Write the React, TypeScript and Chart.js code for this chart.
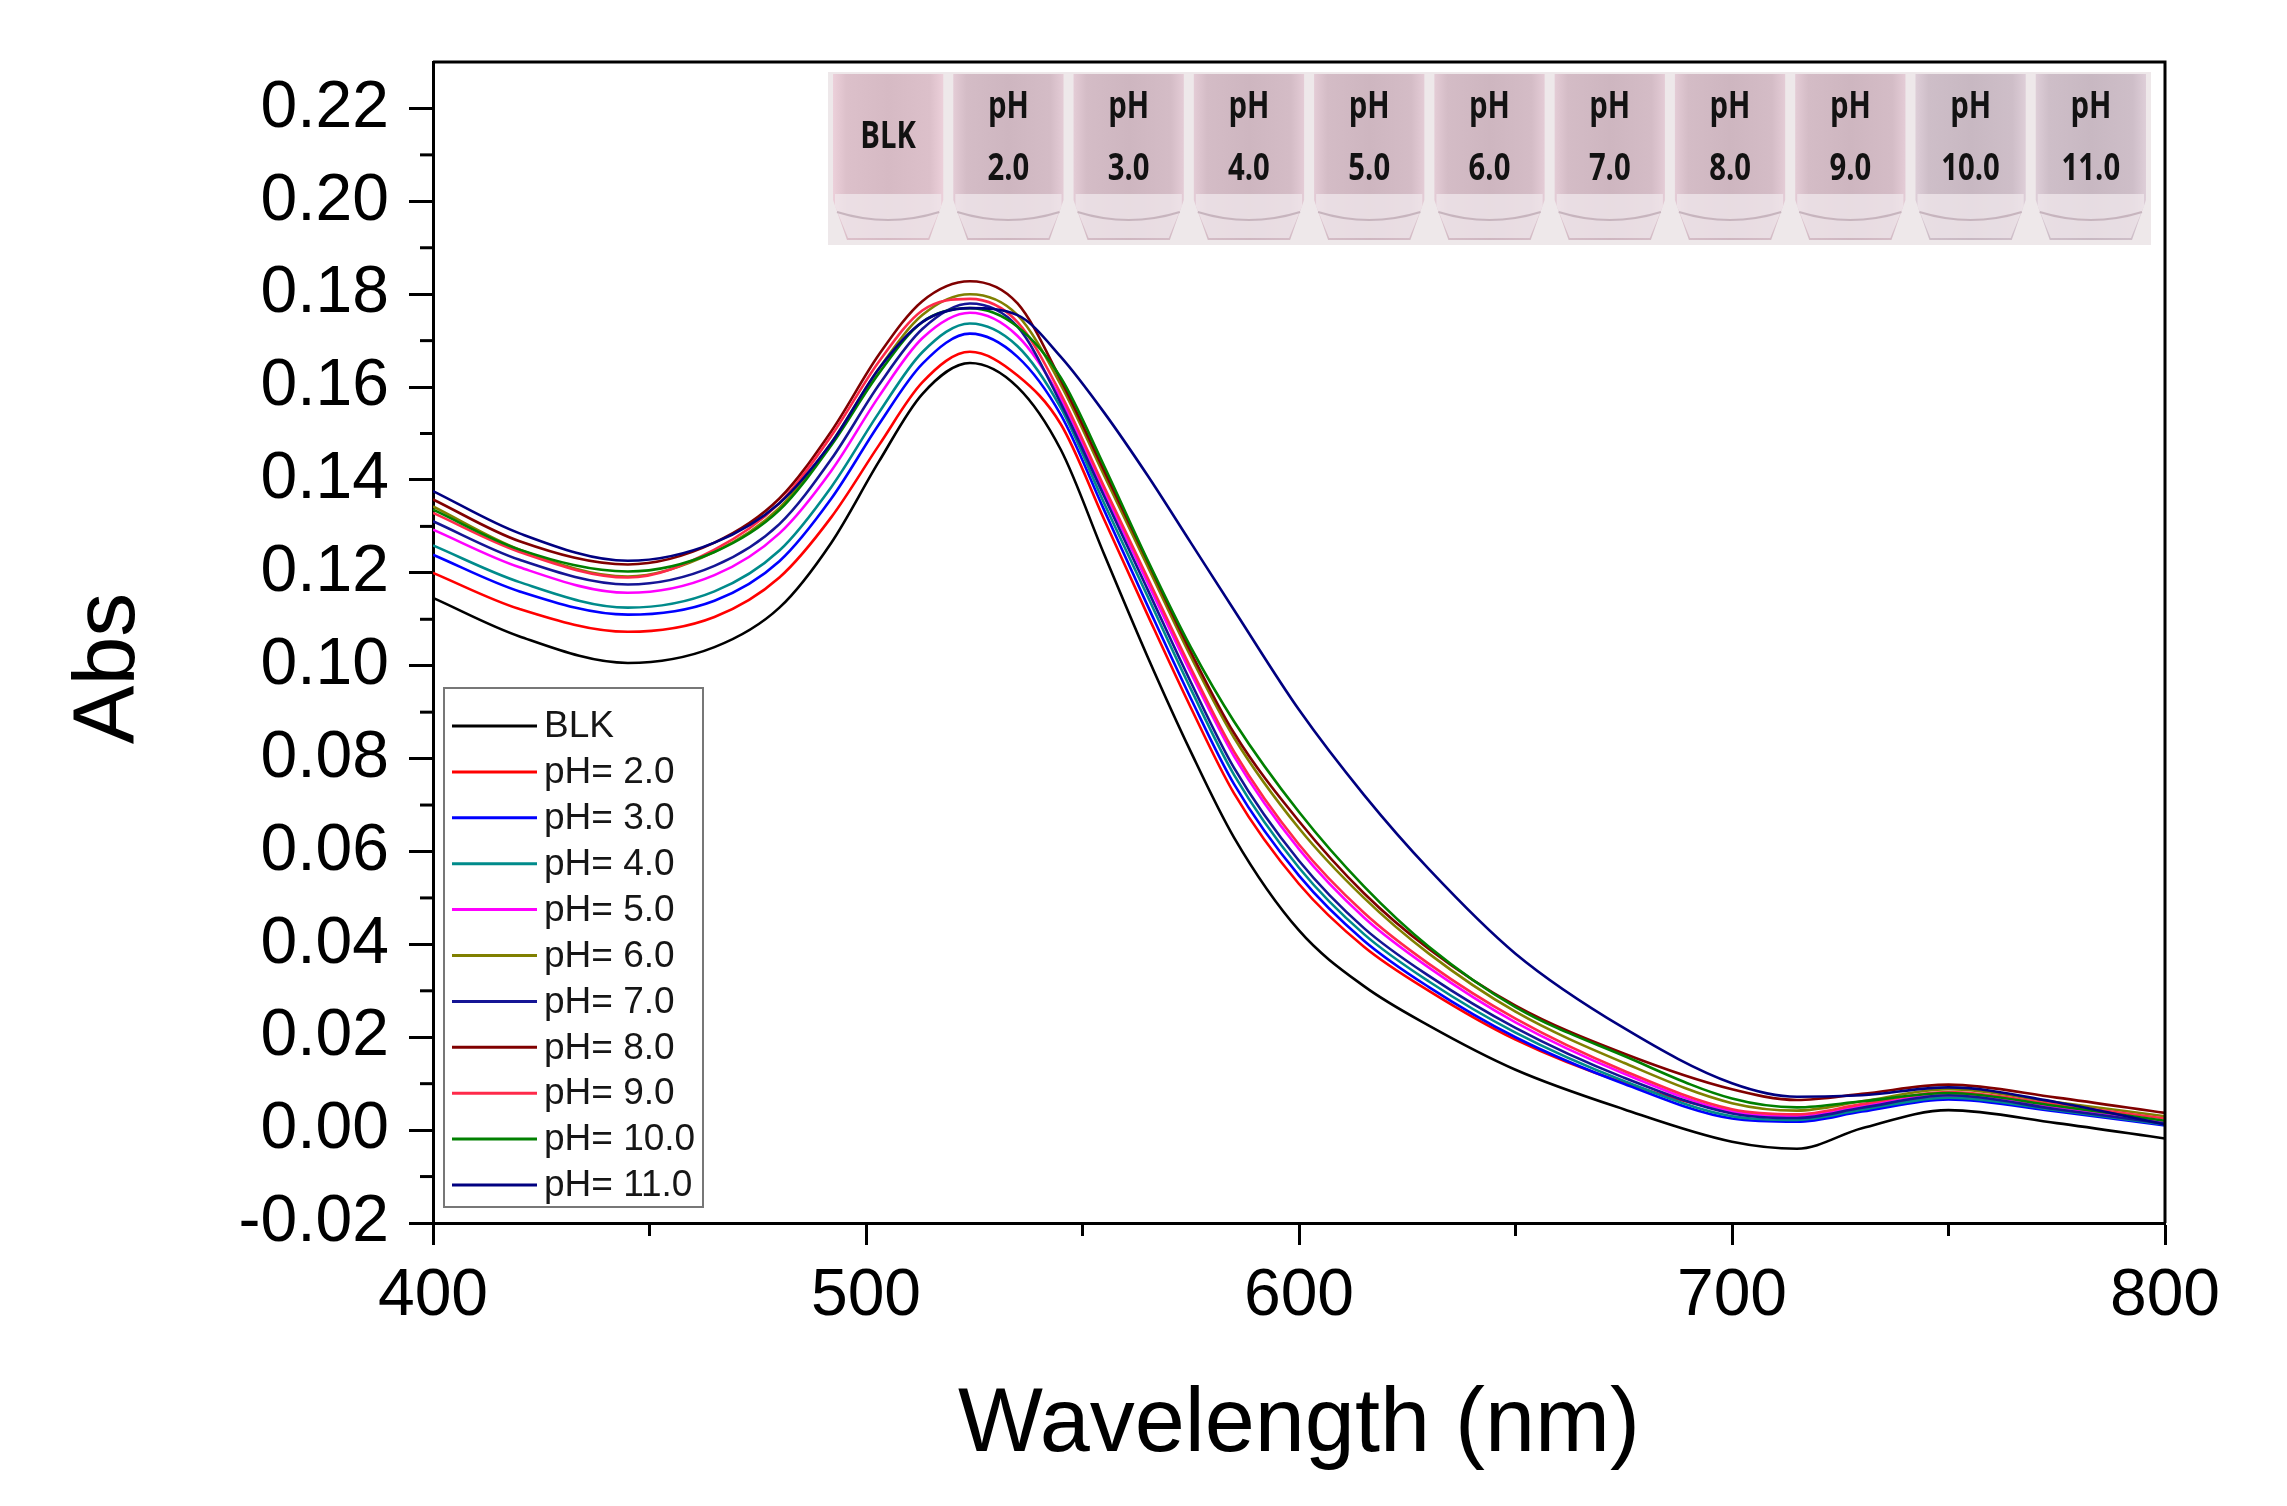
import React, { useEffect, useRef } from 'react';
import { Chart, registerables } from 'chart.js';

Chart.register(...registerables);

const wavelengths = [400, 420, 445, 465, 480, 492, 503, 513, 524, 535, 545, 555, 565, 575, 585, 600, 615, 630, 650, 675, 700, 715, 730, 750, 775, 800];

const seriesLabels = ['BLK', 'pH= 2.0', 'pH= 3.0', 'pH= 4.0', 'pH= 5.0', 'pH= 6.0', 'pH= 7.0', 'pH= 8.0', 'pH= 9.0', 'pH= 10.0', 'pH= 11.0'];
const seriesColors = ['#000000', '#ff0000', '#0000ff', '#008b8b', '#ff00ff', '#808000', '#151595', '#800000', '#ff2a4a', '#008000', '#000080'];

const absBLK = [0.1146, 0.1063, 0.1006, 0.1040, 0.1125, 0.1265, 0.1440, 0.1585, 0.1652, 0.1600, 0.1465, 0.1240, 0.1020, 0.0815, 0.0630, 0.0430, 0.0310, 0.0225, 0.0130, 0.0045, -0.0025, -0.0040, 0.0004, 0.0043, 0.0015, -0.0018];
const absPH2 = [0.1200, 0.1122, 0.1073, 0.1105, 0.1190, 0.1320, 0.1475, 0.1610, 0.1676, 0.1625, 0.1520, 0.1315, 0.1110, 0.0910, 0.0725, 0.0530, 0.0395, 0.0300, 0.0195, 0.0102, 0.0040, 0.0028, 0.0048, 0.0070, 0.0045, 0.0015];
const absPH3 = [0.1239, 0.1160, 0.1110, 0.1140, 0.1225, 0.1360, 0.1520, 0.1650, 0.1715, 0.1665, 0.1540, 0.1335, 0.1130, 0.0930, 0.0745, 0.0548, 0.0408, 0.0308, 0.0200, 0.0100, 0.0025, 0.0018, 0.0040, 0.0066, 0.0040, 0.0010];
const absPH4 = [0.1259, 0.1180, 0.1125, 0.1160, 0.1248, 0.1385, 0.1545, 0.1675, 0.1737, 0.1688, 0.1555, 0.1350, 0.1150, 0.0950, 0.0765, 0.0565, 0.0422, 0.0320, 0.0210, 0.0106, 0.0030, 0.0022, 0.0044, 0.0070, 0.0043, 0.0012];
const absPH5 = [0.1293, 0.1212, 0.1157, 0.1195, 0.1285, 0.1420, 0.1580, 0.1705, 0.1760, 0.1710, 0.1575, 0.1375, 0.1180, 0.0985, 0.0805, 0.0605, 0.0458, 0.0350, 0.0232, 0.0122, 0.0040, 0.0030, 0.0052, 0.0076, 0.0048, 0.0018];
const absPH6 = [0.1343, 0.1250, 0.1192, 0.1245, 0.1340, 0.1480, 0.1640, 0.1755, 0.1800, 0.1755, 0.1605, 0.1410, 0.1215, 0.1020, 0.0845, 0.0650, 0.0500, 0.0380, 0.0255, 0.0145, 0.0058, 0.0042, 0.0062, 0.0088, 0.0060, 0.0030];
const absPH7 = [0.1311, 0.1228, 0.1175, 0.1215, 0.1305, 0.1445, 0.1605, 0.1725, 0.1780, 0.1730, 0.1565, 0.1365, 0.1165, 0.0965, 0.0780, 0.0580, 0.0435, 0.0332, 0.0220, 0.0113, 0.0036, 0.0026, 0.0048, 0.0075, 0.0045, 0.0014];
const absPH8 = [0.1358, 0.1268, 0.1218, 0.1265, 0.1360, 0.1505, 0.1670, 0.1785, 0.1828, 0.1780, 0.1615, 0.1420, 0.1225, 0.1030, 0.0855, 0.0665, 0.0510, 0.0390, 0.0268, 0.0165, 0.0088, 0.0065, 0.0078, 0.0098, 0.0070, 0.0037];
const absPH9 = [0.1329, 0.1245, 0.1190, 0.1250, 0.1350, 0.1495, 0.1655, 0.1765, 0.1790, 0.1740, 0.1585, 0.1385, 0.1190, 0.0995, 0.0815, 0.0615, 0.0468, 0.0358, 0.0240, 0.0128, 0.0045, 0.0034, 0.0056, 0.0082, 0.0055, 0.0025];
const absPH10 = [0.1336, 0.1250, 0.1203, 0.1245, 0.1335, 0.1475, 0.1630, 0.1740, 0.1770, 0.1730, 0.1620, 0.1430, 0.1228, 0.1040, 0.0880, 0.0685, 0.0525, 0.0395, 0.0265, 0.0160, 0.0068, 0.0049, 0.0062, 0.0080, 0.0052, 0.0020];
const absPH11 = [0.1376, 0.1285, 0.1226, 0.1265, 0.1350, 0.1480, 0.1640, 0.1740, 0.1770, 0.1755, 0.1665, 0.1545, 0.1410, 0.1265, 0.1120, 0.0905, 0.0722, 0.0562, 0.0380, 0.0220, 0.0101, 0.0072, 0.0075, 0.0092, 0.0060, 0.0012];

const seriesValues = [absBLK, absPH2, absPH3, absPH4, absPH5, absPH6, absPH7, absPH8, absPH9, absPH10, absPH11];

const xMajorTicks = [400, 500, 600, 700, 800];
const xMinorTicks = [450, 550, 650, 750];
const yMinorTicks = [-0.01, 0.01, 0.03, 0.05, 0.07, 0.09, 0.11, 0.13, 0.15, 0.17, 0.19, 0.21];

const vialTop = ['', 'pH', 'pH', 'pH', 'pH', 'pH', 'pH', 'pH', 'pH', 'pH', 'pH'];
const vialBottom = ['BLK', '2.0', '3.0', '4.0', '5.0', '6.0', '7.0', '8.0', '9.0', '10.0', '11.0'];

const AXIS_FONT = '"Liberation Sans", Arial, sans-serif';

const framePlugin = {
  id: 'frameAndMinor',
  afterDraw(chart: any) {
    const { ctx, chartArea } = chart;
    const xs = chart.scales.x;
    const ys = chart.scales.y;
    ctx.save();
    ctx.strokeStyle = '#000';
    ctx.lineWidth = 3;
    ctx.beginPath();
    ctx.moveTo(chartArea.left, chartArea.top);
    ctx.lineTo(chartArea.right, chartArea.top);
    ctx.lineTo(chartArea.right, chartArea.bottom);
    ctx.stroke();
    xMinorTicks.forEach((v) => {
      const px = xs.getPixelForValue(v);
      ctx.beginPath();
      ctx.moveTo(px, chartArea.bottom);
      ctx.lineTo(px, chartArea.bottom + 13);
      ctx.stroke();
    });
    yMinorTicks.forEach((v) => {
      const py = ys.getPixelForValue(v);
      ctx.beginPath();
      ctx.moveTo(chartArea.left, py);
      ctx.lineTo(chartArea.left - 13, py);
      ctx.stroke();
    });
    ctx.fillStyle = '#000';
    ctx.font = `88px ${AXIS_FONT}`;
    ctx.textAlign = 'center';
    ctx.textBaseline = 'middle';
    ctx.translate(110, (chartArea.top + chartArea.bottom) / 2 + 26);
    ctx.rotate(-Math.PI / 2);
    ctx.fillText('Abs', 0, 0);
    ctx.restore();
  },
};

const legendPlugin = {
  id: 'boxLegend',
  afterDatasetsDraw(chart: any) {
    const { ctx, chartArea } = chart;
    const left = chartArea.left + 11;
    const bottom = chartArea.bottom - 16;
    const w = 259;
    const h = 519;
    const top = bottom - h;
    ctx.save();
    ctx.fillStyle = '#ffffff';
    ctx.fillRect(left, top, w, h);
    ctx.strokeStyle = '#777';
    ctx.lineWidth = 2;
    ctx.strokeRect(left, top, w, h);
    ctx.font = `37px ${AXIS_FONT}`;
    ctx.textBaseline = 'middle';
    ctx.textAlign = 'left';
    seriesLabels.forEach((lab, i) => {
      const y = top + 38 + i * 45.9;
      ctx.strokeStyle = seriesColors[i];
      ctx.lineWidth = 3;
      ctx.beginPath();
      ctx.moveTo(left + 8, y);
      ctx.lineTo(left + 93, y);
      ctx.stroke();
      ctx.fillStyle = '#161616';
      ctx.fillText(lab, left + 100, y + 1);
    });
    ctx.restore();
  },
};

const insetPlugin = {
  id: 'vialInset',
  beforeDatasetsDraw(chart: any) {
    const { ctx, chartArea } = chart;
    const x0 = chartArea.left + 395;
    const x1 = chartArea.right - 14;
    const y0 = chartArea.top + 10;
    const y1 = chartArea.top + 183;
    const n = vialBottom.length;
    const vw = (x1 - x0) / n;
    ctx.save();
    ctx.fillStyle = '#eee8ea';
    ctx.fillRect(x0, y0, x1 - x0, y1 - y0);
    for (let i = 0; i < n; i++) {
      const vx = x0 + i * vw;
      const bodyL = vx + 5;
      const bodyR = vx + vw - 5;
      const g = ctx.createLinearGradient(bodyL, 0, bodyR, 0);
      const base = i === 0 ? [214, 186, 196] : i >= 9 ? [200, 184, 194] : [206, 182, 192];
      const c = (k: number) => `rgb(${Math.round(base[0] + k)},${Math.round(base[1] + k)},${Math.round(base[2] + k)})`;
      g.addColorStop(0, c(22));
      g.addColorStop(0.12, c(6));
      g.addColorStop(0.5, c(0));
      g.addColorStop(0.88, c(6));
      g.addColorStop(1, c(22));
      ctx.fillStyle = g;
      ctx.beginPath();
      ctx.moveTo(bodyL, y0 + 2);
      ctx.lineTo(bodyR, y0 + 2);
      ctx.lineTo(bodyR, y0 + 128);
      ctx.lineTo(bodyR - 14, y0 + 168);
      ctx.lineTo(bodyL + 14, y0 + 168);
      ctx.lineTo(bodyL, y0 + 128);
      ctx.closePath();
      ctx.fill();
      ctx.fillStyle = 'rgba(240,232,236,0.75)';
      ctx.beginPath();
      ctx.moveTo(bodyL + 2, y0 + 122);
      ctx.lineTo(bodyR - 2, y0 + 122);
      ctx.lineTo(bodyR - 2, y0 + 134);
      ctx.lineTo(bodyR - 15, y0 + 166);
      ctx.lineTo(bodyL + 15, y0 + 166);
      ctx.lineTo(bodyL + 2, y0 + 134);
      ctx.closePath();
      ctx.fill();
      ctx.strokeStyle = 'rgba(190,170,180,0.8)';
      ctx.lineWidth = 2;
      ctx.beginPath();
      ctx.moveTo(bodyL + 4, y0 + 140);
      ctx.quadraticCurveTo((bodyL + bodyR) / 2, y0 + 156, bodyR - 4, y0 + 140);
      ctx.stroke();
      const cx = vx + vw / 2;
      ctx.fillStyle = '#121212';
      ctx.textAlign = 'center';
      ctx.textBaseline = 'middle';
      ctx.font = '700 34px "Open Sans", "Noto Sans", sans-serif';
      const drawCondensed = (t: string, x: number, y: number) => {
        ctx.save();
        ctx.translate(x, y);
        ctx.scale(0.86, 1.08);
        ctx.fillText(t, 0, 0);
        ctx.restore();
      };
      if (vialTop[i]) {
        drawCondensed(vialTop[i], cx, y0 + 36);
        drawCondensed(vialBottom[i], cx, y0 + 98);
      } else {
        drawCondensed(vialBottom[i], cx, y0 + 66);
      }
    }
    ctx.restore();
  },
};

export default function App() {
  const canvasRef = useRef<HTMLCanvasElement | null>(null);

  useEffect(() => {
    const canvas = canvasRef.current;
    if (!canvas) return;
    const datasets = seriesLabels.map((label, i) => ({
      label,
      data: wavelengths.map((w, j) => ({ x: w, y: seriesValues[i][j] })),
      borderColor: seriesColors[i],
      backgroundColor: seriesColors[i],
      borderWidth: 2.6,
      pointRadius: 0,
      fill: false,
      cubicInterpolationMode: 'monotone' as const,
      order: seriesLabels.length - i,
    }));

    const chart = new Chart(canvas, {
      type: 'line',
      data: { datasets },
      plugins: [insetPlugin, legendPlugin, framePlugin],
      options: {
        animation: false,
        responsive: false,
        devicePixelRatio: 1,
        layout: { padding: { left: 0, right: 122, top: 62, bottom: 0 } },
        plugins: {
          legend: { display: false },
          tooltip: { enabled: false },
          title: { display: false },
        },
        scales: {
          x: {
            type: 'linear',
            min: 400,
            max: 800,
            afterFit: (scale: any) => {
              scale.height = 283;
            },
            afterBuildTicks: (scale: any) => {
              scale.ticks = xMajorTicks.map((v) => ({ value: v }));
            },
            ticks: {
              padding: 12,
              color: '#000',
              font: { family: AXIS_FONT, size: 66 },
              maxRotation: 0,
              callback: (v: any) => String(v),
            },
            grid: {
              display: true,
              drawOnChartArea: false,
              drawTicks: true,
              tickLength: 22,
              tickWidth: 3,
              tickColor: '#000',
            },
            border: { display: true, width: 3, color: '#000' },
            title: {
              display: true,
              text: 'Wavelength (nm)',
              color: '#000',
              font: { family: AXIS_FONT, size: 90 },
              padding: { top: 0, bottom: 26 },
            },
          },
          y: {
            type: 'linear',
            min: -0.02,
            max: 0.23,
            afterFit: (scale: any) => {
              scale.width = 433;
            },
            ticks: {
              stepSize: 0.02,
              includeBounds: false,
              padding: 20,
              color: '#000',
              font: { family: AXIS_FONT, size: 66 },
              callback: (v: any) => Number(v).toFixed(2),
            },
            grid: {
              display: true,
              drawOnChartArea: false,
              drawTicks: true,
              tickLength: 24,
              tickWidth: 3,
              tickColor: '#000',
            },
            border: { display: true, width: 3, color: '#000' },
            title: { display: false },
          },
        },
      },
    });
    return () => chart.destroy();
  }, []);

  return (
    <div style={{ position: 'fixed', left: 0, top: 0, width: 2287, height: 1506, background: '#fff' }}>
      <canvas ref={canvasRef} width={2287} height={1506} style={{ display: 'block', width: 2287, height: 1506 }} />
    </div>
  );
}
